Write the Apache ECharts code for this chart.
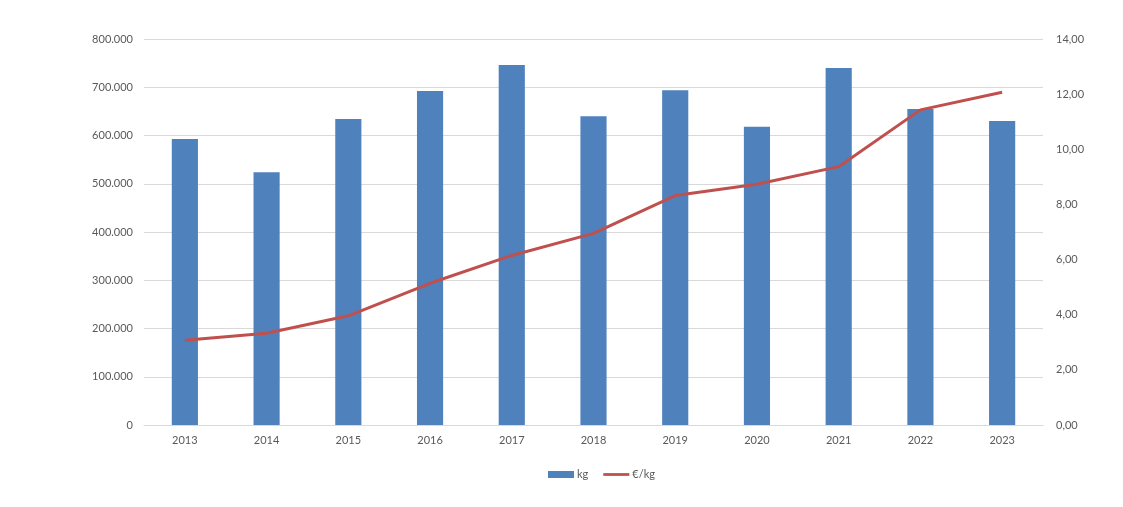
<!DOCTYPE html>
<html><head><meta charset="utf-8">
<script src="https://cdn.jsdelivr.net/npm/echarts@6/dist/echarts.min.js"></script>
<style>html,body{margin:0;padding:0;background:#fff}#c{width:1123px;height:507px}</style>
</head><body><div id="c"></div>
<script>
const years = ['2013','2014','2015','2016','2017','2018','2019','2020','2021','2022','2023'];
const kg = [593000, 524000, 634000, 692000, 746000, 640000, 694000, 618000, 740000, 655000, 630000];
const pricePerKg = [3.07, 3.33, 3.96, 5.14, 6.15, 6.95, 8.32, 8.73, 9.37, 11.43, 12.07];
const leftTicks = {min: 0, max: 800000, interval: 100000};
const rightTicks = {min: 0, max: 14, interval: 2};

const txt = {color: '#595959', fontFamily: 'Lato', fontSize: 11};
const chart = echarts.init(document.getElementById('c'), null, {renderer: 'canvas'});
chart.setOption({
  animation: false,
  backgroundColor: '#fff',
  grid: {left: 144, right: 80, top: 39, bottom: 82, containLabel: false},
  legend: {
    top: 464, left: 543, itemGap: 15, itemWidth: 26, itemHeight: 7,
    textStyle: Object.assign({padding: [0, 0, 0, -2]}, txt),
    data: [
      {name: 'kg', icon: 'rect'},
      {name: '€/kg', icon: 'path://M0,0 H28 V3 H0 Z', itemStyle: {color: '#c0504d'}}
    ]
  },
  xAxis: {
    type: 'category', data: years,
    axisLine: {lineStyle: {color: '#d9d9d9'}},
    axisTick: {show: false},
    axisLabel: Object.assign({margin: 10}, txt)
  },
  yAxis: [{
    type: 'value', min: leftTicks.min, max: leftTicks.max, interval: leftTicks.interval,
    axisLine: {show: false}, axisTick: {show: false},
    splitLine: {lineStyle: {color: '#d9d9d9'}},
    axisLabel: Object.assign({margin: 11, formatter: v => v === 0 ? '0' : v.toLocaleString('de-DE')}, txt)
  }, {
    type: 'value', min: rightTicks.min, max: rightTicks.max, interval: rightTicks.interval,
    axisLine: {show: false}, axisTick: {show: false},
    splitLine: {show: false},
    axisLabel: Object.assign({margin: 13, formatter: v => v.toFixed(2).replace('.', ',')}, txt)
  }],
  series: [{
    name: 'kg', type: 'bar', data: kg, barWidth: '32%',
    itemStyle: {color: '#4f81bd'}
  }, {
    name: '€/kg', type: 'line', yAxisIndex: 1, data: pricePerKg,
    symbol: 'none', lineStyle: {color: '#c0504d', width: 3}, itemStyle: {color: '#c0504d'}
  }]
});
</script></body></html>
